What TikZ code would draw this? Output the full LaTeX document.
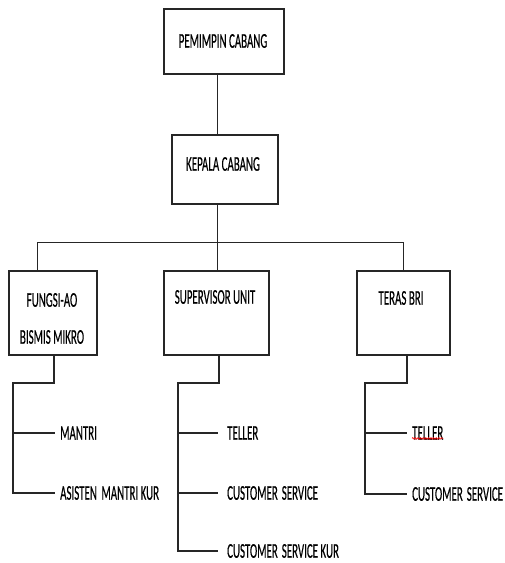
\documentclass[tikz,border=0pt]{standalone}
\usepackage{fontspec}
\usepackage{graphicx}
\setmainfont{Carlito}
\newfontfamily\lblfont{Carlito}[FakeBold=0.6]
\usetikzlibrary{decorations.pathmorphing}
\newcommand{\narrow}[1]{\scalebox{0.52}[1]{#1}}
\begin{document}
\begin{tikzpicture}[x=1pt,y=-1pt,
  box/.style={draw=black!85, line width=1.5pt, inner sep=0pt, anchor=north west},
  lbl/.style={inner sep=0pt, font=\lblfont\fontsize{21}{24}\selectfont},
  thin link/.style={draw=black!85, line width=0.9pt},
  link/.style={draw=black!85, line width=1.5pt}]
\useasboundingbox[fill=white] (0,0) rectangle (505,563);

% boxes
\node[box, minimum width=120pt, minimum height=65pt] (pc) at (163,8) {};
\node[box, minimum width=106pt, minimum height=69pt] (kc) at (171,134) {};
\node[box, minimum width=88pt, minimum height=84pt] (ao) at (8,270) {};
\node[box, minimum width=105pt, minimum height=84pt] (su) at (163,270) {};
\node[box, minimum width=93pt, minimum height=84pt] (tb) at (356,270) {};

% box titles
\node[lbl] (tpc) at (223,41) {\narrow{PEMIMPIN CABANG}};
\node[lbl] (tkc) at (223,164) {\narrow{KEPALA CABANG}};
\node[lbl] (tao1) at (52,300) {\narrow{FUNGSI-AO}};
\node[lbl] (tao2) at (52,337) {\narrow{BISMIS MIKRO}};
\node[lbl] (tsu) at (215,297) {\narrow{SUPERVISOR UNIT}};
\node[lbl] (ttb) at (401,298) {\narrow{TERAS BRI}};

% upper hierarchy
\coordinate (bar) at (217,242);
\coordinate (barL) at (37,242);
\coordinate (barR) at (403,242);
\draw[thin link] (pc.south -| bar) -- (kc.north -| bar);
\draw[thin link] (kc.south -| bar) -- (bar);
\draw[thin link] (barL) -- (barR);
\draw[thin link] (barL) -- (ao.north -| barL);
\draw[thin link] (bar) -- (su.north -| bar);
\draw[thin link] (barR) -- (tb.north -| barR);

% staff under FUNGSI-AO
\coordinate (aoD) at (54,383);
\coordinate (aoS) at (13,383);
\node[lbl, anchor=west] (mantri) at (60,433) {\narrow{MANTRI}};
\node[lbl, anchor=west] (asisten) at (60,493) {\narrow{ASISTEN\hspace{4pt} MANTRI KUR}};
\draw[link] (ao.south -| aoD) -- (aoD) -- (aoS) |- ([xshift=-5pt]asisten.west);
\draw[link] (aoS |- mantri) -- ([xshift=-5pt]mantri.west);

% staff under SUPERVISOR UNIT
\coordinate (suD) at (219,383);
\coordinate (suS) at (178,383);
\node[lbl, anchor=west] (teller1) at (227,433) {\narrow{TELLER}};
\node[lbl, anchor=west] (cs1) at (227,493) {\narrow{CUSTOMER\hspace{3pt} SERVICE}};
\node[lbl, anchor=west] (cskur) at (227,551) {\narrow{CUSTOMER\hspace{3pt} SERVICE KUR}};
\draw[link] (su.south -| suD) -- (suD) -- (suS) |- ([xshift=-9pt]cskur.west);
\draw[link] (suS |- teller1) -- ([xshift=-9pt]teller1.west);
\draw[link] (suS |- cs1) -- ([xshift=-9pt]cs1.west);

% staff under TERAS BRI
\coordinate (tbD) at (407,383);
\coordinate (tbS) at (365,383);
\node[lbl, anchor=west] (teller2) at (412,433) {\narrow{TELLER}};
\node[lbl, anchor=west] (cs2) at (412,494) {\narrow{CUSTOMER\hspace{3pt} SERVICE}};
\draw[link] (tb.south -| tbD) -- (tbD) -- (tbS) |- ([xshift=-5pt]cs2.west);
\draw[link] (tbS |- teller2) -- ([xshift=-5pt]teller2.west);
\draw[red, line width=0.6pt, decorate, decoration={snake, amplitude=0.9pt, segment length=2.6pt}]
  ([yshift=1.5pt]teller2.south west) -- ([yshift=1.5pt]teller2.south east);
\end{tikzpicture}
\end{document}
